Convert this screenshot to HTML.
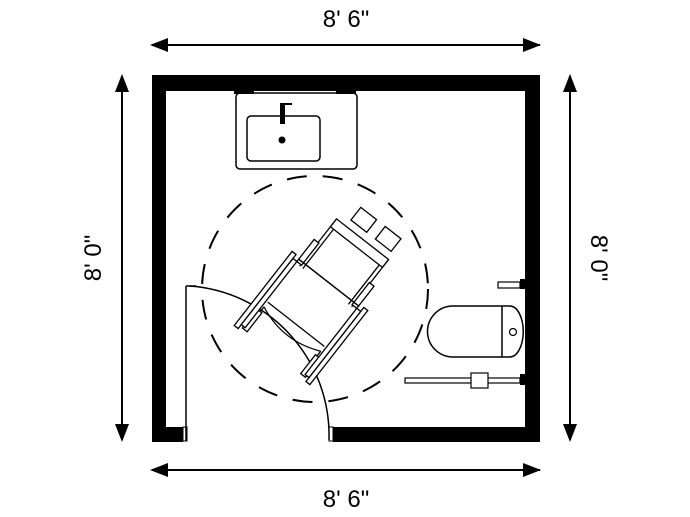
<!DOCTYPE html>
<html><head><meta charset="utf-8"><style>
html,body{margin:0;padding:0;background:#fff;}
svg{display:block;}
text{font-family:"Liberation Sans",Arial,sans-serif;font-size:24px;fill:#000;}
</style></head><body>
<svg width="690" height="517" viewBox="0 0 690 517" xmlns="http://www.w3.org/2000/svg">
<defs>
<marker id="ah" markerWidth="10" markerHeight="10" refX="9" refY="5" orient="auto-start-reverse" markerUnits="userSpaceOnUse" viewBox="0 0 10 10">
<path d="M0,0 L10,5 L0,10 z" fill="#000"/></marker>
</defs>
<!-- dimension arrows -->
<line x1="152" y1="45" x2="540" y2="45" stroke="#000" stroke-width="2"/>
<path d="M150,45 l18,-7 v14z M541,45 l-18,-7 v14z" fill="#000"/>
<text x="346" y="27" text-anchor="middle">8' 6"</text>
<line x1="152" y1="470" x2="540" y2="470" stroke="#000" stroke-width="2"/>
<path d="M150,470 l18,-7 v14z M541,470 l-18,-7 v14z" fill="#000"/>
<text x="346" y="507" text-anchor="middle">8' 6"</text>
<line x1="122" y1="76" x2="122" y2="440" stroke="#000" stroke-width="2"/>
<path d="M122,74 l-7,18 h14z M122,442 l-7,-18 h14z" fill="#000"/>
<text transform="translate(101,258) rotate(-90)" text-anchor="middle">8' 0"</text>
<line x1="570" y1="76" x2="570" y2="440" stroke="#000" stroke-width="2"/>
<path d="M570,74 l-7,18 h14z M570,442 l-7,-18 h14z" fill="#000"/>
<text transform="translate(591,258) rotate(90)" text-anchor="middle">8' 0"</text>
<!-- walls -->
<rect x="152" y="75" width="388" height="16" fill="#000"/>
<rect x="152" y="75" width="14" height="367" fill="#000"/>
<rect x="525" y="75" width="15" height="367" fill="#000"/>
<rect x="152" y="427" width="31" height="15" fill="#000"/>
<rect x="333" y="427" width="207" height="15" fill="#000"/>
<rect x="183" y="427" width="4" height="14" fill="#fff" stroke="#000" stroke-width="1"/>
<rect x="329" y="427" width="4" height="14" fill="#fff" stroke="#000" stroke-width="1"/>
<!-- door -->
<line x1="186" y1="286" x2="186" y2="441" stroke="#000" stroke-width="1.5"/>
<line x1="186" y1="286" x2="196" y2="286" stroke="#000" stroke-width="1.5"/>
<path d="M190,286 A150,150 0 0 1 329,440" fill="none" stroke="#000" stroke-width="1.5"/>
<!-- sink -->
<rect x="236" y="93" width="121" height="76" rx="4" fill="#fff" stroke="#000" stroke-width="1.5"/>
<rect x="234" y="91" width="20" height="3" fill="#000"/>
<rect x="336" y="91" width="20" height="3" fill="#000"/>
<rect x="247" y="116" width="73" height="45" rx="4" fill="none" stroke="#000" stroke-width="1.5"/>
<rect x="280" y="103" width="5" height="21" fill="#000"/>
<line x1="283" y1="104" x2="292" y2="104" stroke="#000" stroke-width="2"/>
<circle cx="282" cy="140" r="3.5" fill="#000"/>
<!-- dashed turning circle -->
<circle cx="315" cy="289" r="113" fill="none" stroke="#000" stroke-width="2" stroke-dasharray="20,16"/>
<!-- toilet -->
<path d="M453,306 H510 A13,25 0 0 1 510,357 H453 A25,25 0 0 1 453,306 Z" fill="#fff" stroke="#000" stroke-width="1.5"/>
<line x1="502" y1="306" x2="502" y2="357" stroke="#000" stroke-width="1.5"/>
<circle cx="513" cy="332" r="3.5" fill="none" stroke="#000" stroke-width="1.2"/>
<rect x="498" y="282" width="22" height="6" fill="#fff" stroke="#000" stroke-width="1.2"/>
<rect x="520" y="279" width="5" height="10" fill="#000"/>
<rect x="405" y="378" width="115" height="5" fill="#fff" stroke="#000" stroke-width="1.2"/>
<rect x="471" y="373" width="17" height="15" fill="#fff" stroke="#000" stroke-width="1.2"/>
<rect x="520" y="374" width="5" height="11" fill="#000"/>
<!-- wheelchair -->
<g transform="translate(301,318) rotate(38)" fill="#fff" stroke="#000" stroke-width="1.3">
  <rect x="-21" y="-124" width="20" height="16"/>
  <rect x="10" y="-124" width="20" height="16"/>
  <rect x="-33" y="-100" width="66" height="10"/>
  <line x1="-33" y1="-100" x2="-33" y2="-40"/>
  <line x1="33" y1="-100" x2="33" y2="-40"/>
  <line x1="-29" y1="-90" x2="-29" y2="-40"/>
  <line x1="29" y1="-90" x2="29" y2="-40"/>
  <rect x="-38" y="-70" width="6" height="28"/>
  <rect x="32" y="-70" width="6" height="28"/>
  <rect x="-38" y="-45" width="76" height="0.1"/>
  <line x1="-36" y1="-45" x2="36" y2="-45"/>
  <line x1="-36" y1="8" x2="36" y2="8"/>
  <path d="M-36,14 Q0,30 36,14" fill="none"/>
  <line x1="-36" y1="14" x2="-36" y2="40"/>
  <line x1="36" y1="14" x2="36" y2="40"/>
  <rect x="-40" y="20" width="6" height="24"/>
  <rect x="34" y="20" width="6" height="24"/>
  <rect x="-48" y="-47" width="5" height="94"/>
  <rect x="-43" y="-42" width="5" height="84"/>
  <rect x="43" y="-47" width="5" height="94"/>
  <rect x="38" y="-42" width="5" height="84"/>
</g>
</svg>
</body></html>
